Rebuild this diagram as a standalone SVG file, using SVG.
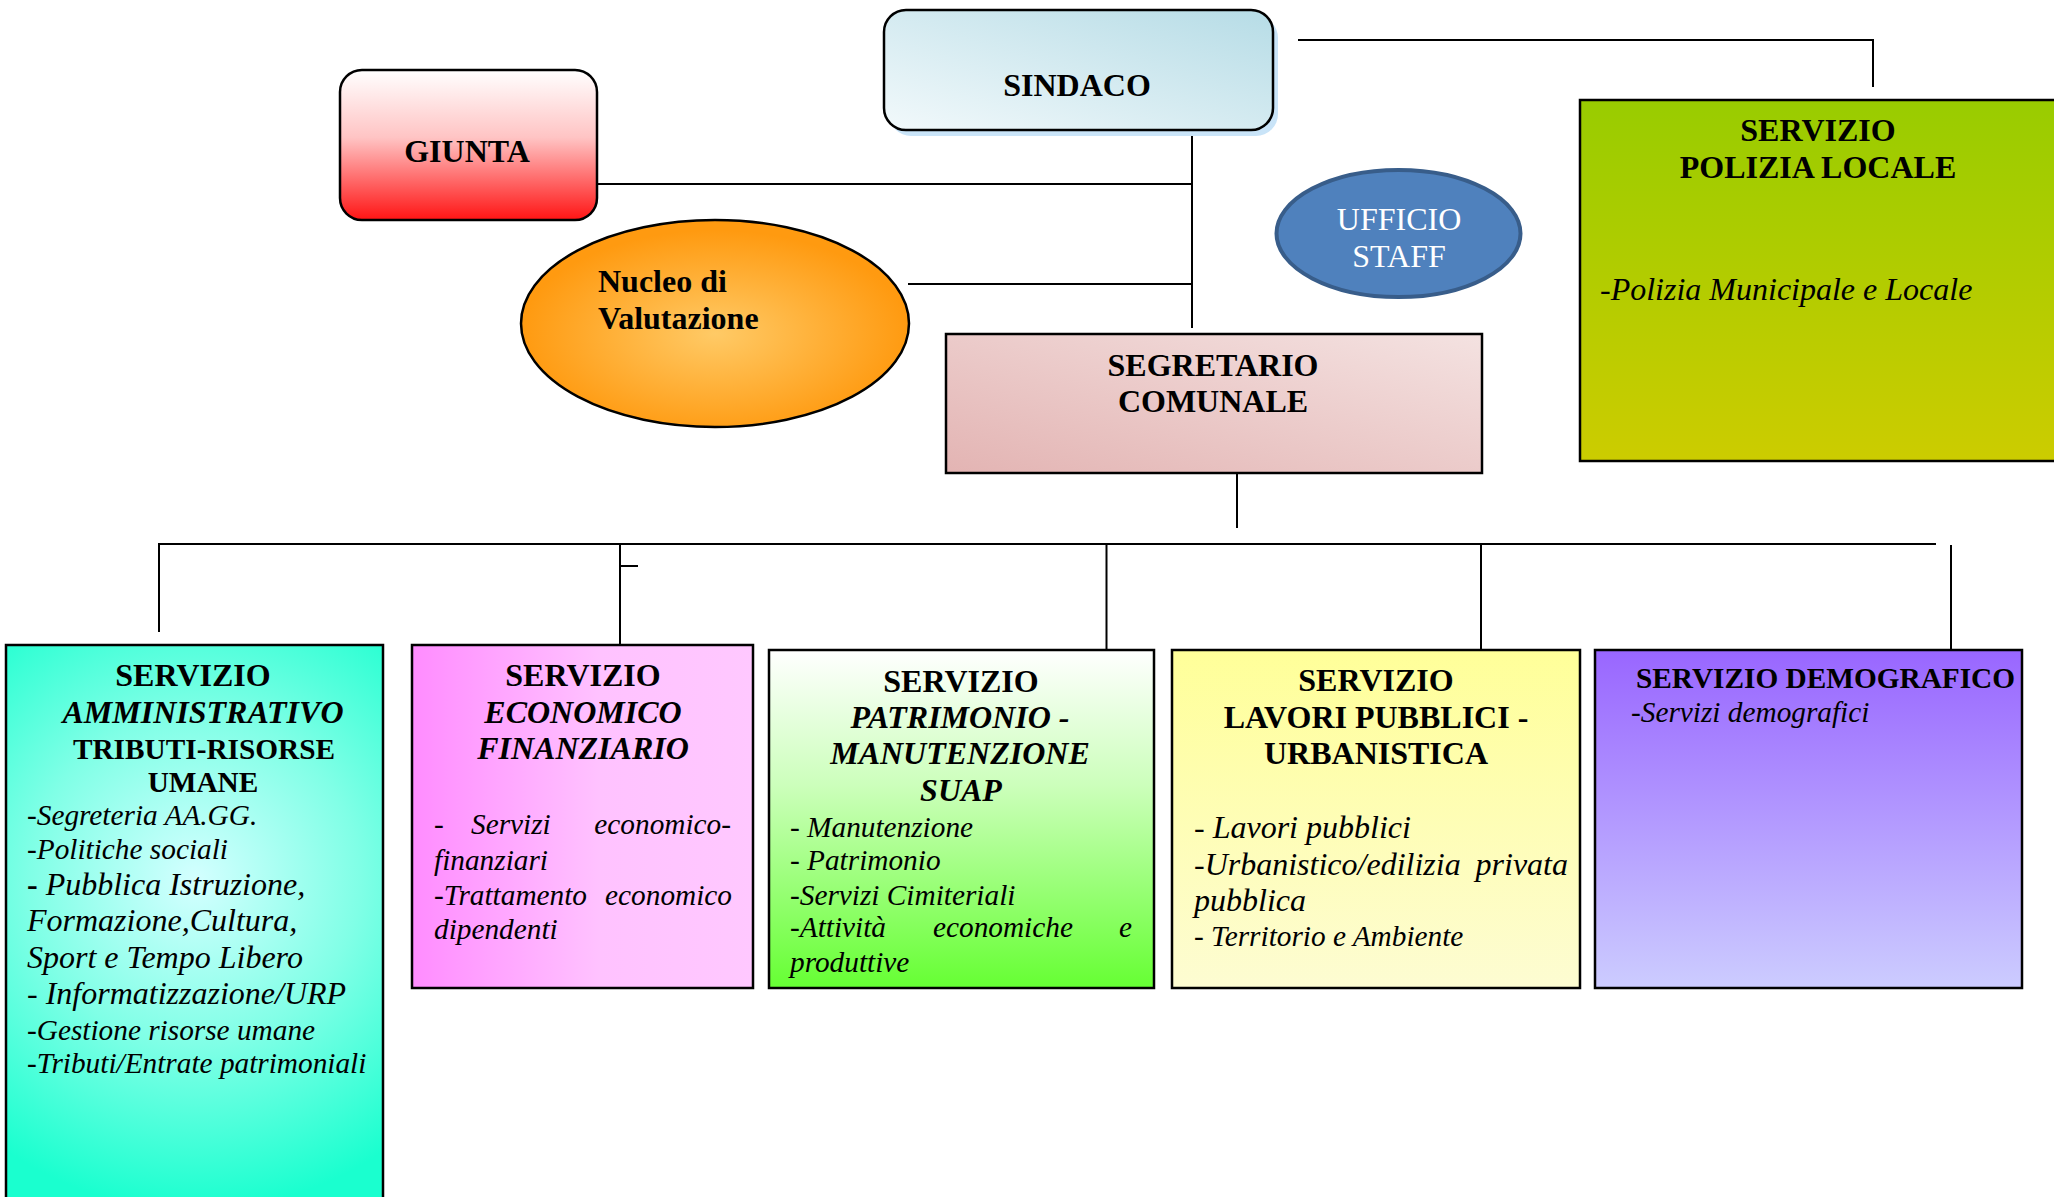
<svg xmlns="http://www.w3.org/2000/svg" width="2054" height="1197" viewBox="0 0 2054 1197">
<style>
.ln{stroke:#000;stroke-width:2;fill:none}
.bx{stroke:#000;stroke-width:2.5}
.h{font-family:"Liberation Serif","Times New Roman",serif;font-weight:bold;font-size:32px;text-anchor:middle;fill:#000}
.bi{font-style:italic}
.it{font-family:"Liberation Serif","Times New Roman",serif;font-style:italic;font-size:29.3px;fill:#000}
.big{font-size:32px}
.end{text-anchor:end}
</style>
<defs>
<linearGradient id="gGiunta" x1="0" y1="0" x2="0" y2="1">
<stop offset="0" stop-color="#ffffff"/><stop offset="0.45" stop-color="#ffc4c4"/><stop offset="1" stop-color="#ff1414"/>
</linearGradient>
<linearGradient id="gSindaco" x1="0" y1="1" x2="1" y2="0">
<stop offset="0" stop-color="#f2f9fb"/><stop offset="1" stop-color="#b6dce6"/>
</linearGradient>
<radialGradient id="gNucleo" cx="0.5" cy="0.55" r="0.5">
<stop offset="0" stop-color="#ffca66"/><stop offset="1" stop-color="#ff9a10"/>
</radialGradient>
<linearGradient id="gSegr" x1="0" y1="1" x2="1" y2="0">
<stop offset="0" stop-color="#e3b4b3"/><stop offset="1" stop-color="#f4e2e1"/>
</linearGradient>
<linearGradient id="gPol" x1="0" y1="0" x2="0" y2="1">
<stop offset="0" stop-color="#99cc00"/><stop offset="1" stop-color="#cccc00"/>
</linearGradient>
<radialGradient id="gAdm" gradientUnits="userSpaceOnUse" cx="195" cy="880" r="330">
<stop offset="0" stop-color="#d4ffff"/><stop offset="0.5" stop-color="#80ffe6"/><stop offset="1" stop-color="#1affcf"/>
</radialGradient>
<linearGradient id="gEco" x1="0" y1="0" x2="1" y2="0">
<stop offset="0" stop-color="#ff8cff"/><stop offset="0.55" stop-color="#ffc2ff"/><stop offset="1" stop-color="#ffc8ff"/>
</linearGradient>
<linearGradient id="gPat" x1="0" y1="0" x2="0" y2="1">
<stop offset="0" stop-color="#ffffff"/><stop offset="0.4" stop-color="#ccffbb"/><stop offset="1" stop-color="#66ff33"/>
</linearGradient>
<linearGradient id="gLav" x1="0" y1="0" x2="0" y2="1">
<stop offset="0" stop-color="#ffff99"/><stop offset="1" stop-color="#fdfcd2"/>
</linearGradient>
<linearGradient id="gDem" x1="0" y1="0" x2="0" y2="1">
<stop offset="0" stop-color="#9966ff"/><stop offset="1" stop-color="#ccccff"/>
</linearGradient>
</defs>
<rect width="2054" height="1197" fill="#fff"/>

<g id="connectors">
<path class="ln" d="M1298 40 H1873 V87"/>
<path class="ln" d="M1192 125 V328"/>
<path class="ln" d="M597 184 H1191"/>
<path class="ln" d="M908 284 H1191"/>
<path class="ln" d="M1237 473 V528"/>
<path class="ln" d="M159 632 V544 H1936"/>
<path class="ln" d="M620 544 V645"/>
<path class="ln" d="M620 566 H638"/>
<path class="ln" d="M1106.5 544 V650"/>
<path class="ln" d="M1481 544 V650"/>
<path class="ln" d="M1951 545 V650"/>
</g>

<g id="giunta">
<rect class="bx" x="340" y="70" width="257" height="150" rx="22" fill="url(#gGiunta)"/>
<text class="h" x="467" y="162">GIUNTA</text>
</g>

<g id="sindaco">
<rect x="889" y="16" width="389" height="120" rx="22" fill="#c9e4f8"/>
<rect class="bx" x="884" y="10" width="389" height="120" rx="22" fill="url(#gSindaco)"/>
<text class="h" x="1077" y="96">SINDACO</text>
</g>

<g id="nucleo">
<ellipse class="bx" cx="715" cy="323.5" rx="194" ry="103.5" fill="url(#gNucleo)"/>
<text class="h" x="598" y="291.5" style="text-anchor:start">Nucleo di</text>
<text class="h" x="598" y="328.5" style="text-anchor:start">Valutazione</text>
</g>

<g id="ufficio-staff">
<ellipse cx="1398.5" cy="233.5" rx="122" ry="63.5" fill="#4f81bd" stroke="#385d8a" stroke-width="4"/>
<text class="h" x="1399" y="229.5" style="font-weight:normal;fill:#fff">UFFICIO</text>
<text class="h" x="1399" y="267" style="font-weight:normal;fill:#fff">STAFF</text>
</g>

<g id="segretario">
<rect class="bx" x="946" y="334" width="536" height="139" fill="url(#gSegr)"/>
<text class="h" x="1213" y="375.5">SEGRETARIO</text>
<text class="h" x="1213" y="411.5">COMUNALE</text>
</g>

<g id="polizia">
<rect class="bx" x="1580" y="100" width="500" height="361" fill="url(#gPol)"/>
<text class="h" x="1818" y="141">SERVIZIO</text>
<text class="h" x="1818" y="178">POLIZIA LOCALE</text>
<text class="it big" x="1600" y="299.5">-Polizia Municipale e Locale</text>
</g>

<g id="amministrativo">
<rect class="bx" x="6" y="645" width="377" height="600" fill="url(#gAdm)"/>
<text class="h" x="193" y="686">SERVIZIO</text>
<text class="h bi" x="203" y="723">AMMINISTRATIVO</text>
<text class="h" x="204" y="758.5" style="font-size:29.3px">TRIBUTI-RISORSE</text>
<text class="h" x="203" y="792" style="font-size:29.3px">UMANE</text>
<text class="it" x="27" y="824.5">-Segreteria AA.GG.</text>
<text class="it" x="27" y="858.5">-Politiche sociali</text>
<text class="it big" x="27" y="894.5"><tspan font-weight="bold" font-style="normal">-</tspan> Pubblica Istruzione,</text>
<text class="it big" x="27" y="930.5">Formazione,Cultura,</text>
<text class="it big" x="27" y="967.5">Sport e Tempo Libero</text>
<text class="it big" x="27" y="1003.5">- Informatizzazione/URP</text>
<text class="it" x="27" y="1039.5">-Gestione risorse umane</text>
<text class="it" x="27" y="1072.5">-Tributi/Entrate patrimoniali</text>
</g>

<g id="economico">
<rect class="bx" x="412" y="645" width="341" height="343" fill="url(#gEco)"/>
<text class="h" x="583" y="686">SERVIZIO</text>
<text class="h bi" x="583" y="723">ECONOMICO</text>
<text class="h bi" x="583" y="759">FINANZIARIO</text>
<text class="it" x="434" y="833.5">-</text>
<text class="it" x="471" y="833.5">Servizi</text>
<text class="it end" x="731" y="833.5">economico-</text>
<text class="it" x="434" y="869.5">finanziari</text>
<text class="it" x="434" y="904.5">-Trattamento</text>
<text class="it end" x="732" y="904.5">economico</text>
<text class="it" x="434" y="938.5">dipendenti</text>
</g>

<g id="patrimonio">
<rect class="bx" x="769" y="650" width="385" height="338" fill="url(#gPat)"/>
<text class="h" x="961" y="692">SERVIZIO</text>
<text class="h bi" x="960" y="728">PATRIMONIO -</text>
<text class="h bi" x="960" y="764">MANUTENZIONE</text>
<text class="h bi" x="961" y="801">SUAP</text>
<text class="it" x="790" y="836.5">- Manutenzione</text>
<text class="it" x="790" y="869.5">- Patrimonio</text>
<text class="it" x="790" y="904.5">-Servizi Cimiteriali</text>
<text class="it" x="790" y="936.5">-Attività</text>
<text class="it" x="933" y="936.5">economiche</text>
<text class="it end" x="1132" y="936.5">e</text>
<text class="it" x="790" y="971.5">produttive</text>
</g>

<g id="lavori">
<rect class="bx" x="1172" y="650" width="408" height="338" fill="url(#gLav)"/>
<text class="h" x="1376" y="691">SERVIZIO</text>
<text class="h" x="1376" y="728">LAVORI PUBBLICI -</text>
<text class="h" x="1376" y="764">URBANISTICA</text>
<text class="it big" x="1194" y="837.5">- Lavori pubblici</text>
<text class="it big" x="1194" y="874.5">-Urbanistico/edilizia</text>
<text class="it big end" x="1568" y="874.5">privata</text>
<text class="it big" x="1194" y="910.5">pubblica</text>
<text class="it" x="1194" y="945.5">- Territorio e Ambiente</text>
</g>

<g id="demografico">
<rect class="bx" x="1595" y="650" width="427" height="338" fill="url(#gDem)"/>
<text class="h" x="1636" y="688" style="text-anchor:start;font-size:29.3px">SERVIZIO DEMOGRAFICO</text>
<text class="it" x="1631" y="721.5">-Servizi demografici</text>
</g>
</svg>
